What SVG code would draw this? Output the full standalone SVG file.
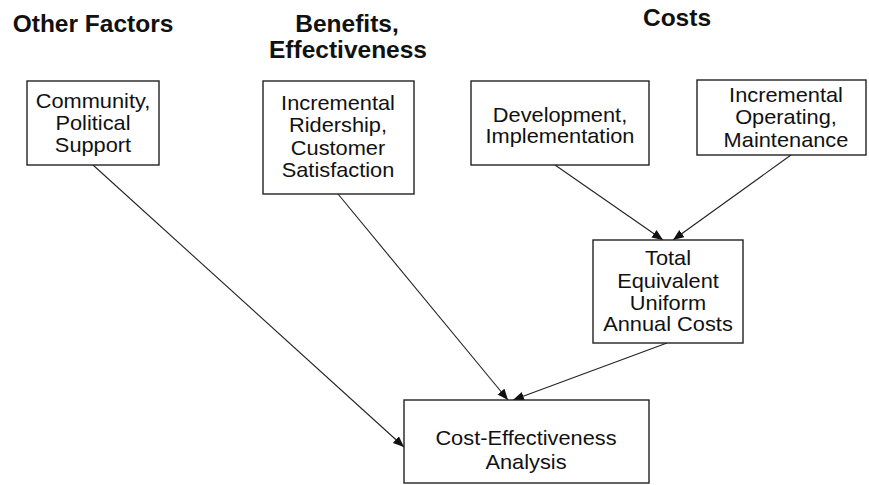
<svg xmlns="http://www.w3.org/2000/svg" width="869" height="485" viewBox="0 0 869 485">
<style>
.box{fill:#fff;stroke:#222;stroke-width:1.4}
.t{font-family:"Liberation Sans",Arial,sans-serif;font-size:20px;fill:#111;text-anchor:middle}
.h{font-family:"Liberation Sans",Arial,sans-serif;font-size:24.5px;font-weight:bold;fill:#111;text-anchor:middle}
.c{stroke:#222;stroke-width:1.1;fill:none;marker-end:url(#arr)}
</style>
<defs>
<marker id="arr" markerUnits="userSpaceOnUse" markerWidth="12" markerHeight="10" refX="11" refY="4.5" orient="auto">
<path d="M0,0 L11,4.5 L0,9 Z" fill="#111"/>
</marker>
</defs>
<rect width="869" height="485" fill="#fff"/>
<g id="titles">
<text class="h" x="93" y="32">Other Factors</text>
<text class="h" x="347" y="32">Benefits,</text>
<text class="h" x="348" y="58">Effectiveness</text>
<text class="h" x="677" y="26">Costs</text>
</g>
<g id="connectors">
<line class="c" x1="93" y1="165" x2="404" y2="447"/>
<line class="c" x1="338" y1="194" x2="508" y2="400"/>
<line class="c" x1="555" y1="165" x2="663" y2="240"/>
<line class="c" x1="791" y1="155" x2="673" y2="240"/>
<line class="c" x1="667" y1="343" x2="513" y2="400"/>
</g>
<g id="community">
<rect class="box" x="27" y="81" width="132" height="84"/>
<g transform="translate(93 0) scale(1.09 1)">
<text class="t" x="0" y="108">Community,</text>
<text class="t" x="0" y="130">Political</text>
<text class="t" x="0" y="152">Support</text>
</g>
</g>
<g id="ridership">
<rect class="box" x="263" y="81" width="151" height="113"/>
<g transform="translate(338 0) scale(1.09 1)">
<text class="t" x="0" y="110">Incremental</text>
<text class="t" x="0" y="132">Ridership,</text>
<text class="t" x="0" y="155">Customer</text>
<text class="t" x="0" y="177">Satisfaction</text>
</g>
</g>
<g id="development">
<rect class="box" x="471" y="81" width="178" height="84"/>
<g transform="translate(560 0) scale(1.09 1)">
<text class="t" x="0" y="122">Development,</text>
<text class="t" x="0" y="143">Implementation</text>
</g>
</g>
<g id="operating">
<rect class="box" x="697" y="80" width="169" height="75"/>
<g transform="translate(786 0) scale(1.09 1)">
<text class="t" x="0" y="102">Incremental</text>
<text class="t" x="0" y="124">Operating,</text>
<text class="t" x="0" y="147">Maintenance</text>
</g>
</g>
<g id="total">
<rect class="box" x="593" y="240" width="150" height="103"/>
<g transform="translate(668 0) scale(1.09 1)">
<text class="t" x="0" y="265">Total</text>
<text class="t" x="0" y="288">Equivalent</text>
<text class="t" x="0" y="310">Uniform</text>
<text class="t" x="0" y="331">Annual Costs</text>
</g>
</g>
<g id="cea">
<rect class="box" x="404" y="400" width="245" height="83"/>
<g transform="translate(526 0) scale(1.09 1)">
<text class="t" x="0" y="445">Cost-Effectiveness</text>
<text class="t" x="0" y="469">Analysis</text>
</g>
</g>
</svg>
